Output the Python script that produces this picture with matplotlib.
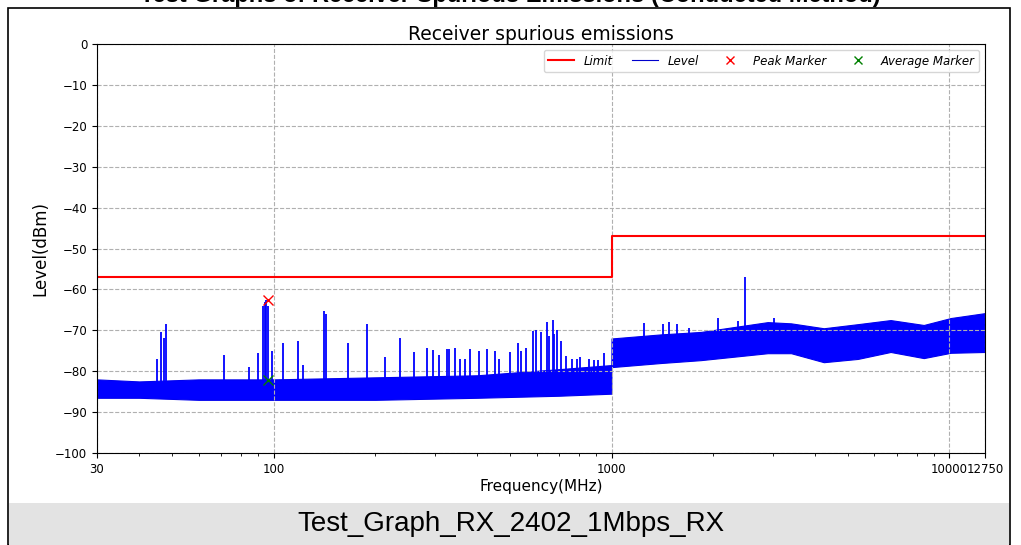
import numpy as np
import matplotlib
matplotlib.use("Agg")
import matplotlib.pyplot as plt
from matplotlib.patches import Rectangle

# limit line (MHz, dBm)
limit_f = [30, 1000, 1000, 12750]
limit_lvl = [-57, -57, -47, -47]

# noise floor envelope
floor_f = [30, 40, 60, 100, 200, 400, 700, 999,
           1000, 1400, 1837, 2900, 3400, 4250, 5360, 6700, 8400, 10100, 12750]
floor_low = [-86.5, -86.5, -87, -87, -87, -86.5, -86, -85.5,
             -79, -78, -77.3, -75.6, -75.6, -77.8, -77, -75.3, -76.8, -75.5, -75.3]
floor_high = [-82, -82.5, -82, -82, -81.5, -81, -79.5, -78.5,
              -72, -71, -70.4, -68, -68.3, -69.5, -68.5, -67.5, -68.7, -67, -65.8]

# discrete spurs sticking out of the floor
spur_f = [45.2, 46.4, 47.5, 48.0, 71.3, 84.6, 90, 93.1, 94.2, 95, 96.4, 99,
          106.7, 118, 122, 141, 143, 166, 189, 214, 237, 261, 285, 297, 309,
          327, 331, 345, 357, 369, 382, 404, 429, 453, 466, 499, 527, 541,
          560, 584, 599, 620, 646, 655, 669, 678, 692, 711, 731, 766, 793,
          809, 855, 885, 915, 953,
          1244, 1416, 1476, 1558, 1691, 2062, 2362, 2478, 3020]
spur_lvl = [-77, -70.5, -72, -68.5, -76, -79, -75.5, -64, -63, -62.5, -64, -75,
            -73, -72.6, -78.5, -65.3, -66, -73, -68.5, -76.5, -72, -75.3, -74.3, -74.8, -76,
            -74.5, -74.6, -74.3, -77, -77, -74.6, -75, -74.6, -75, -77, -75.2, -73.1, -75,
            -74.3, -70.2, -69.9, -70.5, -67.9, -71.5, -67.5, -70.8, -70, -72.7, -76.2, -77, -77,
            -76.5, -77, -77.2, -77.3, -75.5,
            -68.2, -68.5, -68, -68.5, -69.5, -67, -67.7, -57, -67]

peak_f, peak_lvl = [95.9], [-62.5]
avg_f, avg_lvl = [95.9], [-82.2]

xticks = [30, 100, 1000, 10000, 12750]
xtick_labels = ["30", "100", "1000", "10000", "12750"]

fig = plt.figure(figsize=(10.21, 5.45), dpi=100)

# page frame and caption band
fig.patches.append(Rectangle((8 / 1021, 0), 1002 / 1021, 537 / 545, transform=fig.transFigure,
                             fill=False, edgecolor="black", linewidth=1.2))
fig.patches.append(Rectangle((9 / 1021, 0), 1000 / 1021, 42 / 545, transform=fig.transFigure,
                             facecolor="#e3e3e3", edgecolor="none"))
fig.text(0.5, 1 - 2 / 545, "Test Graphs of Receiver Spurious Emissions (Conducted Method)",
         ha="center", va="baseline", fontsize=17, fontweight="bold", family="Liberation Sans")
fig.text(0.5, 21 / 545, "Test_Graph_RX_2402_1Mbps_RX", ha="center", va="center",
         fontsize=20, family="Liberation Sans")

ax = fig.add_axes([97 / 1021, 92 / 545, 888 / 1021, 409 / 545])

ax.fill_between(floor_f, floor_low, floor_high, color="#0000ff", linewidth=0.8, edgecolor="#0000ee")
base = np.where(np.array(spur_f) < 1000, -83, -73)
ax.vlines(spur_f, base, spur_lvl, color="#0000ff", linewidth=1.3)

ax.plot(limit_f, limit_lvl, color="red", linewidth=1.5, label="Limit")
ax.plot([], [], color="#0000cc", linewidth=0.8, label="Level")
ax.plot(peak_f, peak_lvl, "x", color="red", markersize=7, label="Peak Marker")
ax.plot(avg_f, avg_lvl, "x", color="green", markersize=7, label="Average Marker")

ax.set_xscale("log")
ax.set_xlim(30, 12750)
ax.set_ylim(-100, 0)
ax.set_yticks(range(-100, 1, 10))
ax.set_xticks(xticks)
ax.set_xticklabels(xtick_labels)
ax.tick_params(labelsize=8.5)
ax.grid(True, which="major", linestyle="--", color="#b0b0b0", linewidth=0.8)

ax.set_title("Receiver spurious emissions", fontsize=13.5, pad=3)
ax.set_xlabel("Frequency(MHz)", fontsize=11, labelpad=2)
ax.set_ylabel("Level(dBm)", fontsize=12)

leg = ax.legend(loc="upper right", ncol=4, prop={"style": "italic", "size": 8.5},
                handlelength=2.2, columnspacing=1.6, borderaxespad=0.5, markerscale=0.85)

fig.savefig("out.png", dpi=100)
